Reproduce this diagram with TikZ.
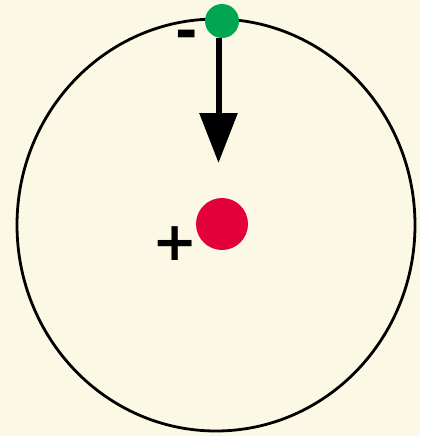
\documentclass[tikz,border=0pt]{standalone}
\usepackage{fontspec}
\newfontfamily\signfont{DejaVu Sans}
\usetikzlibrary{arrows.meta,shapes.geometric}
\definecolor{paper}{RGB}{251,249,229}
\definecolor{electron}{RGB}{0,166,81}
\definecolor{proton}{RGB}{228,0,58}
\begin{document}
\begin{tikzpicture}[x=1pt,y=-1pt,
  >={Triangle[length=50pt,width=37pt]},
  orbit/.style={draw,ellipse,line width=2.8pt,minimum width=398pt,minimum height=412pt,inner sep=0pt},
  dot/.style={circle,inner sep=0pt,minimum size=#1},
  sign/.style={font=\signfont\bfseries\fontsize{54}{54}\selectfont,inner sep=0pt},
  arrow/.style={->,line width=6pt}
]
\fill[paper] (0,0) rectangle (420,436);
\useasboundingbox (0,0) rectangle (420,436);
\node[orbit] (orbit) at (216,225) {};
\node[dot=34pt,fill=electron] (e) at (222,21) {};
\node[dot=52pt,fill=proton] (p) at (222,224) {};
\node[sign] (minus) at (187,40) {-};
\node[sign] (plus) at (175.5,244) {+};
\coordinate (tip) at (218.5,163);
\draw[arrow] (e.south -| tip) -- (tip);
\end{tikzpicture}
\end{document}
